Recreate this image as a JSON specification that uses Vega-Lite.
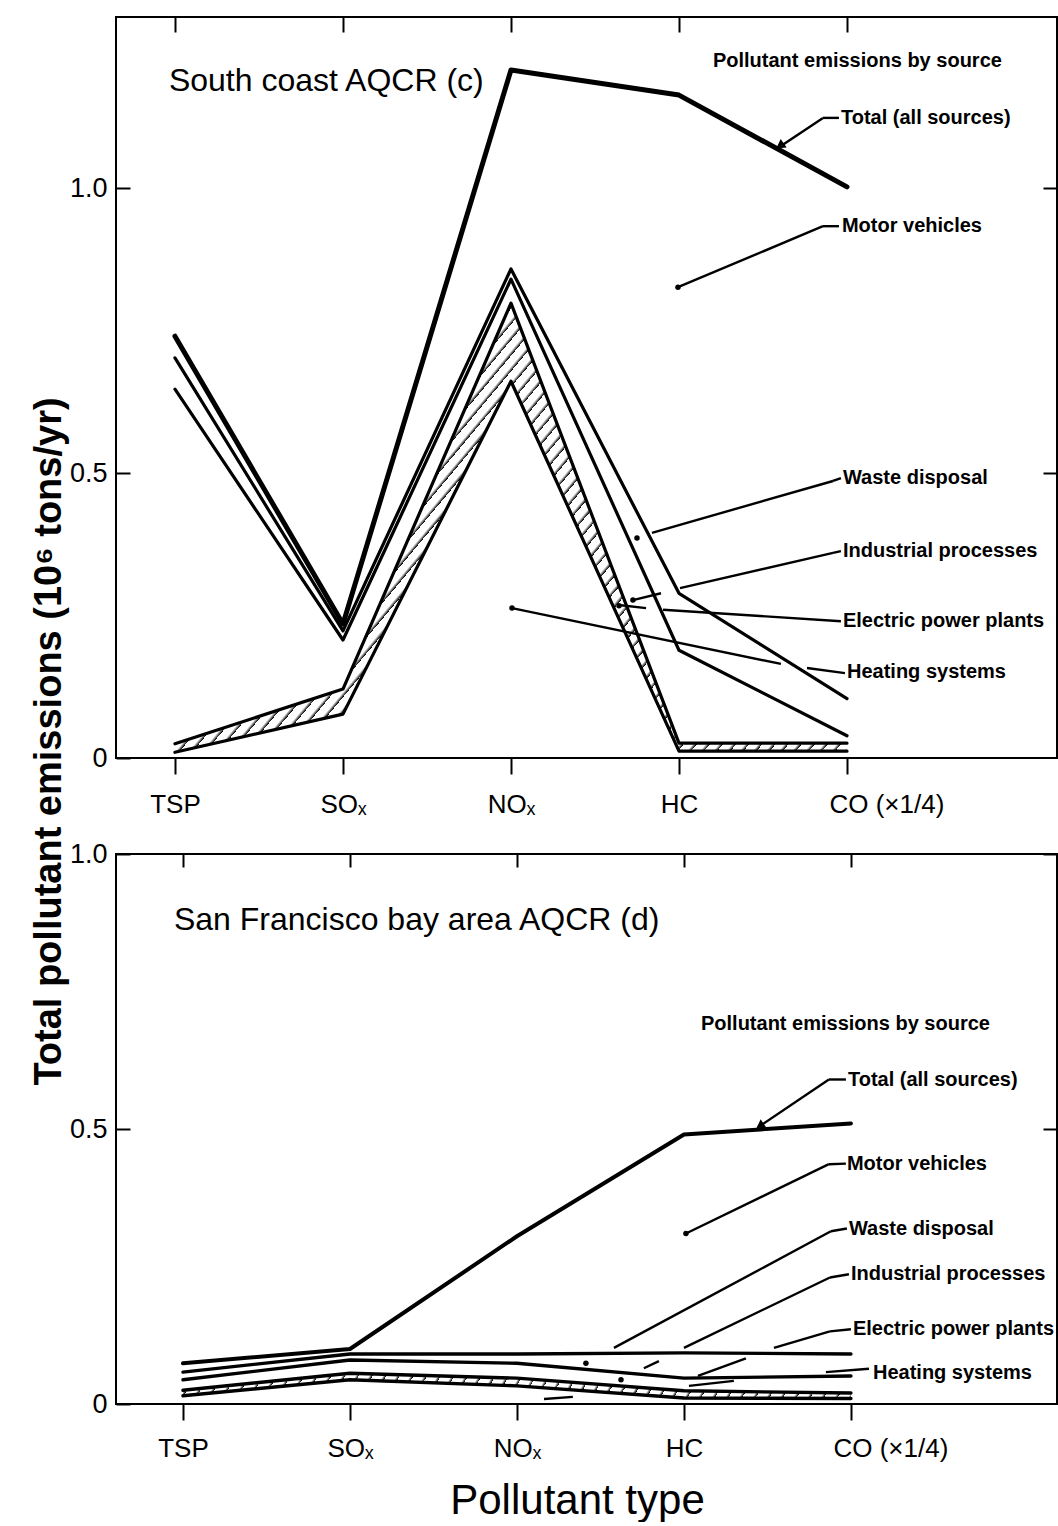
{
  "$schema": "https://vega.github.io/schema/vega-lite/v6.json",
  "autosize": {"type": "pad"},
  "padding": {"left": 29, "top": 15, "right": 0, "bottom": 0},
  "background": "white",
  "config": {
    "view": {"stroke": "black", "strokeWidth": 2},
    "axis": {"grid": false, "domain": false, "tickColor": "black", "tickWidth": 2, "labelColor": "black", "titleColor": "black"}
  },
  "datasets": {
    "c": [
      {"pos": 1, "L1": 0.740, "L2": 0.702, "L3": 0.647, "L4": 0.025, "L5": 0.010},
      {"pos": 2, "L1": 0.235, "L2": 0.223, "L3": 0.207, "L4": 0.121, "L5": 0.077},
      {"pos": 3, "L1": 1.207, "L2": 0.858, "L3": 0.840, "L4": 0.798, "L5": 0.661},
      {"pos": 4, "L1": 1.163, "L2": 0.289, "L3": 0.189, "L4": 0.026, "L5": 0.012},
      {"pos": 5, "L1": 1.002, "L2": 0.104, "L3": 0.039, "L4": 0.026, "L5": 0.012}
    ],
    "d": [
      {"pos": 1, "L1": 0.074, "L2": 0.058, "L3": 0.044, "L4": 0.025, "L5": 0.015},
      {"pos": 2, "L1": 0.100, "L2": 0.091, "L3": 0.080, "L4": 0.056, "L5": 0.044},
      {"pos": 3, "L1": 0.305, "L2": 0.091, "L3": 0.074, "L4": 0.047, "L5": 0.033},
      {"pos": 4, "L1": 0.490, "L2": 0.093, "L3": 0.047, "L4": 0.024, "L5": 0.011},
      {"pos": 5, "L1": 0.510, "L2": 0.091, "L3": 0.051, "L4": 0.020, "L5": 0.010}
    ],
    "labc": [
      {"kind": "title", "x": 0.964, "y": 1.170, "t": "South coast AQCR (c)"},
      {"kind": "lab", "x": 4.202, "y": 1.223, "t": "Pollutant emissions by source"},
      {"kind": "lab", "x": 4.964, "y": 1.123, "t": "Total (all sources)"},
      {"kind": "lab", "x": 4.970, "y": 0.933, "t": "Motor vehicles"},
      {"kind": "lab", "x": 4.976, "y": 0.491, "t": "Waste disposal"},
      {"kind": "lab", "x": 4.976, "y": 0.363, "t": "Industrial processes"},
      {"kind": "lab", "x": 4.976, "y": 0.240, "t": "Electric power plants"},
      {"kind": "lab", "x": 5.0, "y": 0.151, "t": "Heating systems"}
    ],
    "legc": [
      {"x": 4.952, "y": 1.123, "x2": 4.857, "y2": 1.123},
      {"x": 4.857, "y": 1.123, "x2": 4.589, "y2": 1.070},
      {"x": 4.952, "y": 0.933, "x2": 4.857, "y2": 0.933},
      {"x": 4.857, "y": 0.933, "x2": 3.994, "y2": 0.826},
      {"x": 4.964, "y": 0.491, "x2": 4.917, "y2": 0.486},
      {"x": 4.917, "y": 0.486, "x2": 3.839, "y2": 0.395},
      {"x": 4.964, "y": 0.363, "x2": 4.917, "y2": 0.360},
      {"x": 4.917, "y": 0.360, "x2": 4.006, "y2": 0.298},
      {"x": 3.893, "y": 0.289, "x2": 3.726, "y2": 0.277},
      {"x": 4.964, "y": 0.240, "x2": 3.905, "y2": 0.260},
      {"x": 3.804, "y": 0.263, "x2": 3.655, "y2": 0.268},
      {"x": 4.988, "y": 0.149, "x2": 4.762, "y2": 0.158},
      {"x": 4.607, "y": 0.165, "x2": 3.006, "y2": 0.263}
    ],
    "dotc": [
      {"x": 3.994, "y": 0.826}, {"x": 3.750, "y": 0.386}, {"x": 3.726, "y": 0.277},
      {"x": 3.643, "y": 0.267}, {"x": 3.006, "y": 0.263}
    ],
    "arrc": [{"x": 4.601, "y": 1.074}],
    "labd": [
      {"kind": "title", "x": 0.946, "y": 0.862, "t": "San Francisco bay area AQCR (d)"},
      {"kind": "lab", "x": 4.102, "y": 0.691, "t": "Pollutant emissions by source"},
      {"kind": "lab", "x": 4.982, "y": 0.590, "t": "Total (all sources)"},
      {"kind": "lab", "x": 4.976, "y": 0.437, "t": "Motor vehicles"},
      {"kind": "lab", "x": 4.988, "y": 0.319, "t": "Waste disposal"},
      {"kind": "lab", "x": 5.0, "y": 0.236, "t": "Industrial processes"},
      {"kind": "lab", "x": 5.012, "y": 0.136, "t": "Electric power plants"},
      {"kind": "lab", "x": 5.132, "y": 0.056, "t": "Heating systems"}
    ],
    "legd": [
      {"x": 4.970, "y": 0.590, "x2": 4.868, "y2": 0.590},
      {"x": 4.868, "y": 0.590, "x2": 4.443, "y2": 0.503},
      {"x": 4.970, "y": 0.437, "x2": 4.868, "y2": 0.436},
      {"x": 4.868, "y": 0.436, "x2": 4.012, "y2": 0.310},
      {"x": 4.976, "y": 0.319, "x2": 4.880, "y2": 0.314},
      {"x": 4.880, "y": 0.314, "x2": 3.581, "y2": 0.102},
      {"x": 4.988, "y": 0.236, "x2": 4.874, "y2": 0.230},
      {"x": 4.874, "y": 0.230, "x2": 4.0, "y2": 0.102},
      {"x": 3.850, "y": 0.078, "x2": 3.760, "y2": 0.065},
      {"x": 5.0, "y": 0.136, "x2": 4.874, "y2": 0.132},
      {"x": 4.874, "y": 0.132, "x2": 4.539, "y2": 0.102},
      {"x": 4.371, "y": 0.083, "x2": 4.084, "y2": 0.051},
      {"x": 4.299, "y": 0.042, "x2": 4.030, "y2": 0.033},
      {"x": 5.108, "y": 0.064, "x2": 4.850, "y2": 0.058},
      {"x": 3.335, "y": 0.013, "x2": 3.162, "y2": 0.009}
    ],
    "dotd": [{"x": 4.012, "y": 0.310}, {"x": 3.413, "y": 0.074}, {"x": 3.623, "y": 0.044}],
    "arrd": [{"x": 4.455, "y": 0.505}]
  },
  "vconcat": [
    {
      "width": 941,
      "height": 741,
      "layer": [
        {
          "data": {"name": "c"},
          "mark": {"type": "area", "strokeWidth": 0, "fill": {"gradient": "linear", "x1": 0, "y1": 0, "x2": 1.188, "y2": 0.665, "stops": [
            {"offset":0,"color":"#fff"},{"offset":0.0085,"color":"#fff"},{"offset":0.0125,"color":"#000"},
            {"offset":0.0125,"color":"#fff"},{"offset":0.021,"color":"#fff"},{"offset":0.025,"color":"#000"},
            {"offset":0.025,"color":"#fff"},{"offset":0.0335,"color":"#fff"},{"offset":0.0375,"color":"#000"},
            {"offset":0.0375,"color":"#fff"},{"offset":0.046,"color":"#fff"},{"offset":0.05,"color":"#000"},
            {"offset":0.05,"color":"#fff"},{"offset":0.0585,"color":"#fff"},{"offset":0.0625,"color":"#000"},
            {"offset":0.0625,"color":"#fff"},{"offset":0.071,"color":"#fff"},{"offset":0.075,"color":"#000"},
            {"offset":0.075,"color":"#fff"},{"offset":0.0835,"color":"#fff"},{"offset":0.0875,"color":"#000"},
            {"offset":0.0875,"color":"#fff"},{"offset":0.096,"color":"#fff"},{"offset":0.1,"color":"#000"},
            {"offset":0.1,"color":"#fff"},{"offset":0.1085,"color":"#fff"},{"offset":0.1125,"color":"#000"},
            {"offset":0.1125,"color":"#fff"},{"offset":0.121,"color":"#fff"},{"offset":0.125,"color":"#000"},
            {"offset":0.125,"color":"#fff"},{"offset":0.1335,"color":"#fff"},{"offset":0.1375,"color":"#000"},
            {"offset":0.1375,"color":"#fff"},{"offset":0.146,"color":"#fff"},{"offset":0.15,"color":"#000"},
            {"offset":0.15,"color":"#fff"},{"offset":0.1585,"color":"#fff"},{"offset":0.1625,"color":"#000"},
            {"offset":0.1625,"color":"#fff"},{"offset":0.171,"color":"#fff"},{"offset":0.175,"color":"#000"},
            {"offset":0.175,"color":"#fff"},{"offset":0.1835,"color":"#fff"},{"offset":0.1875,"color":"#000"},
            {"offset":0.1875,"color":"#fff"},{"offset":0.196,"color":"#fff"},{"offset":0.2,"color":"#000"},
            {"offset":0.2,"color":"#fff"},{"offset":0.2085,"color":"#fff"},{"offset":0.2125,"color":"#000"},
            {"offset":0.2125,"color":"#fff"},{"offset":0.221,"color":"#fff"},{"offset":0.225,"color":"#000"},
            {"offset":0.225,"color":"#fff"},{"offset":0.2335,"color":"#fff"},{"offset":0.2375,"color":"#000"},
            {"offset":0.2375,"color":"#fff"},{"offset":0.246,"color":"#fff"},{"offset":0.25,"color":"#000"},
            {"offset":0.25,"color":"#fff"},{"offset":0.2585,"color":"#fff"},{"offset":0.2625,"color":"#000"},
            {"offset":0.2625,"color":"#fff"},{"offset":0.271,"color":"#fff"},{"offset":0.275,"color":"#000"},
            {"offset":0.275,"color":"#fff"},{"offset":0.2835,"color":"#fff"},{"offset":0.2875,"color":"#000"},
            {"offset":0.2875,"color":"#fff"},{"offset":0.296,"color":"#fff"},{"offset":0.3,"color":"#000"},
            {"offset":0.3,"color":"#fff"},{"offset":0.3085,"color":"#fff"},{"offset":0.3125,"color":"#000"},
            {"offset":0.3125,"color":"#fff"},{"offset":0.321,"color":"#fff"},{"offset":0.325,"color":"#000"},
            {"offset":0.325,"color":"#fff"},{"offset":0.3335,"color":"#fff"},{"offset":0.3375,"color":"#000"},
            {"offset":0.3375,"color":"#fff"},{"offset":0.346,"color":"#fff"},{"offset":0.35,"color":"#000"},
            {"offset":0.35,"color":"#fff"},{"offset":0.3585,"color":"#fff"},{"offset":0.3625,"color":"#000"},
            {"offset":0.3625,"color":"#fff"},{"offset":0.371,"color":"#fff"},{"offset":0.375,"color":"#000"},
            {"offset":0.375,"color":"#fff"},{"offset":0.3835,"color":"#fff"},{"offset":0.3875,"color":"#000"},
            {"offset":0.3875,"color":"#fff"},{"offset":0.396,"color":"#fff"},{"offset":0.4,"color":"#000"},
            {"offset":0.4,"color":"#fff"},{"offset":0.4085,"color":"#fff"},{"offset":0.4125,"color":"#000"},
            {"offset":0.4125,"color":"#fff"},{"offset":0.421,"color":"#fff"},{"offset":0.425,"color":"#000"},
            {"offset":0.425,"color":"#fff"},{"offset":0.4335,"color":"#fff"},{"offset":0.4375,"color":"#000"},
            {"offset":0.4375,"color":"#fff"},{"offset":0.446,"color":"#fff"},{"offset":0.45,"color":"#000"},
            {"offset":0.45,"color":"#fff"},{"offset":0.4585,"color":"#fff"},{"offset":0.4625,"color":"#000"},
            {"offset":0.4625,"color":"#fff"},{"offset":0.471,"color":"#fff"},{"offset":0.475,"color":"#000"},
            {"offset":0.475,"color":"#fff"},{"offset":0.4835,"color":"#fff"},{"offset":0.4875,"color":"#000"},
            {"offset":0.4875,"color":"#fff"},{"offset":0.496,"color":"#fff"},{"offset":0.5,"color":"#000"},
            {"offset":0.5,"color":"#fff"},{"offset":0.5085,"color":"#fff"},{"offset":0.5125,"color":"#000"},
            {"offset":0.5125,"color":"#fff"},{"offset":0.521,"color":"#fff"},{"offset":0.525,"color":"#000"},
            {"offset":0.525,"color":"#fff"},{"offset":0.5335,"color":"#fff"},{"offset":0.5375,"color":"#000"},
            {"offset":0.5375,"color":"#fff"},{"offset":0.546,"color":"#fff"},{"offset":0.55,"color":"#000"},
            {"offset":0.55,"color":"#fff"},{"offset":0.5585,"color":"#fff"},{"offset":0.5625,"color":"#000"},
            {"offset":0.5625,"color":"#fff"},{"offset":0.571,"color":"#fff"},{"offset":0.575,"color":"#000"},
            {"offset":0.575,"color":"#fff"},{"offset":0.5835,"color":"#fff"},{"offset":0.5875,"color":"#000"},
            {"offset":0.5875,"color":"#fff"},{"offset":0.596,"color":"#fff"},{"offset":0.6,"color":"#000"},
            {"offset":0.6,"color":"#fff"},{"offset":0.6085,"color":"#fff"},{"offset":0.6125,"color":"#000"},
            {"offset":0.6125,"color":"#fff"},{"offset":0.621,"color":"#fff"},{"offset":0.625,"color":"#000"},
            {"offset":0.625,"color":"#fff"},{"offset":0.6335,"color":"#fff"},{"offset":0.6375,"color":"#000"},
            {"offset":0.6375,"color":"#fff"},{"offset":0.646,"color":"#fff"},{"offset":0.65,"color":"#000"},
            {"offset":0.65,"color":"#fff"},{"offset":0.6585,"color":"#fff"},{"offset":0.6625,"color":"#000"},
            {"offset":0.6625,"color":"#fff"},{"offset":0.671,"color":"#fff"},{"offset":0.675,"color":"#000"},
            {"offset":0.675,"color":"#fff"},{"offset":0.6835,"color":"#fff"},{"offset":0.6875,"color":"#000"},
            {"offset":0.6875,"color":"#fff"},{"offset":0.696,"color":"#fff"},{"offset":0.7,"color":"#000"},
            {"offset":0.7,"color":"#fff"},{"offset":0.7085,"color":"#fff"},{"offset":0.7125,"color":"#000"},
            {"offset":0.7125,"color":"#fff"},{"offset":0.721,"color":"#fff"},{"offset":0.725,"color":"#000"},
            {"offset":0.725,"color":"#fff"},{"offset":0.7335,"color":"#fff"},{"offset":0.7375,"color":"#000"},
            {"offset":0.7375,"color":"#fff"},{"offset":0.746,"color":"#fff"},{"offset":0.75,"color":"#000"},
            {"offset":0.75,"color":"#fff"},{"offset":0.7585,"color":"#fff"},{"offset":0.7625,"color":"#000"},
            {"offset":0.7625,"color":"#fff"},{"offset":0.771,"color":"#fff"},{"offset":0.775,"color":"#000"},
            {"offset":0.775,"color":"#fff"},{"offset":0.7835,"color":"#fff"},{"offset":0.7875,"color":"#000"},
            {"offset":0.7875,"color":"#fff"},{"offset":0.796,"color":"#fff"},{"offset":0.8,"color":"#000"},
            {"offset":0.8,"color":"#fff"},{"offset":0.8085,"color":"#fff"},{"offset":0.8125,"color":"#000"},
            {"offset":0.8125,"color":"#fff"},{"offset":0.821,"color":"#fff"},{"offset":0.825,"color":"#000"},
            {"offset":0.825,"color":"#fff"},{"offset":0.8335,"color":"#fff"},{"offset":0.8375,"color":"#000"},
            {"offset":0.8375,"color":"#fff"},{"offset":0.846,"color":"#fff"},{"offset":0.85,"color":"#000"},
            {"offset":0.85,"color":"#fff"},{"offset":0.8585,"color":"#fff"},{"offset":0.8625,"color":"#000"},
            {"offset":0.8625,"color":"#fff"},{"offset":0.871,"color":"#fff"},{"offset":0.875,"color":"#000"},
            {"offset":0.875,"color":"#fff"},{"offset":0.8835,"color":"#fff"},{"offset":0.8875,"color":"#000"},
            {"offset":0.8875,"color":"#fff"},{"offset":0.896,"color":"#fff"},{"offset":0.9,"color":"#000"},
            {"offset":0.9,"color":"#fff"},{"offset":0.9085,"color":"#fff"},{"offset":0.9125,"color":"#000"},
            {"offset":0.9125,"color":"#fff"},{"offset":0.921,"color":"#fff"},{"offset":0.925,"color":"#000"},
            {"offset":0.925,"color":"#fff"},{"offset":0.9335,"color":"#fff"},{"offset":0.9375,"color":"#000"},
            {"offset":0.9375,"color":"#fff"},{"offset":0.946,"color":"#fff"},{"offset":0.95,"color":"#000"},
            {"offset":0.95,"color":"#fff"},{"offset":0.9585,"color":"#fff"},{"offset":0.9625,"color":"#000"},
            {"offset":0.9625,"color":"#fff"},{"offset":0.971,"color":"#fff"},{"offset":0.975,"color":"#000"},
            {"offset":0.975,"color":"#fff"},{"offset":0.9835,"color":"#fff"},{"offset":0.9875,"color":"#000"},
            {"offset":0.9875,"color":"#fff"},{"offset":0.996,"color":"#fff"},{"offset":1,"color":"#000"}
          ]}},
          "encoding": {
            "x": {"field": "pos", "type": "quantitative", "scale": {"domain": [0.649, 6.25], "nice": false, "zero": false},
              "axis": {"orient": "bottom", "values": [1, 2, 3, 4, 5], "labelExpr": "['','TSP','SOₓ','NOₓ','HC','CO (×1/4)'][datum.value]",
                "tickSize": 16, "labelPadding": 17, "labelFont": "Liberation Sans, Arial, sans-serif", "labelFontSize": 26,
                "labelAlign": {"condition": {"test": "datum.value == 5", "value": "left"}, "value": "center"},
                "labelOffset": {"condition": {"test": "datum.value == 5", "value": -18}, "value": 0},
                "labelOverlap": false, "labelFlush": false, "title": null}},
            "y": {"field": "L5", "type": "quantitative", "scale": {"domain": [0, 1.3], "nice": false},
              "axis": {"orient": "left", "values": [0, 0.5, 1], "labelExpr": "datum.value == 0 ? '0' : format(datum.value, '.1f')",
                "tickSize": -14, "labelPadding": 23, "labelFont": "Liberation Sans, Arial, sans-serif", "labelFontSize": 27,
                "title": "Total pollutant emissions (10⁶ tons/yr)", "titleFont": "Liberation Sans, Arial, sans-serif",
                "titleFontSize": 38, "titleFontWeight": "bold", "titleAngle": 270, "titleBaseline": "top", "titleAlign": "center",
                "titleX": -86, "titleY": 724}},
            "y2": {"field": "L4"}
          }
        },
        {
          "data": {"name": "c"},
          "transform": [{"fold": ["L1", "L2", "L3", "L4", "L5"], "as": ["s", "v"]}],
          "mark": {"type": "line", "color": "black", "strokeCap": "round", "strokeJoin": "round"},
          "encoding": {
            "x": {"field": "pos", "type": "quantitative", "scale": {"domain": [0.649, 6.25], "nice": false, "zero": false},
              "axis": {"orient": "top", "values": [1, 2, 3, 4, 5], "labels": false, "tickSize": -15, "title": null}},
            "y": {"field": "v", "type": "quantitative", "scale": {"domain": [0, 1.3], "nice": false},
              "axis": {"orient": "right", "values": [0.5, 1], "labels": false, "tickSize": -14, "title": null}},
            "detail": {"field": "s"},
            "strokeWidth": {"condition": {"test": "datum.s === 'L1'", "value": 5}, "value": 3.2}
          }
        },
        {
          "data": {"name": "legc"},
          "mark": {"type": "rule", "color": "black", "strokeWidth": 2.4},
          "encoding": {
            "x": {"field": "x", "type": "quantitative", "scale": {"domain": [0.649, 6.25], "nice": false, "zero": false}, "axis": null},
            "y": {"field": "y", "type": "quantitative", "scale": {"domain": [0, 1.3], "nice": false}, "axis": null},
            "x2": {"field": "x2"},
            "y2": {"field": "y2"}
          }
        },
        {
          "data": {"name": "dotc"},
          "mark": {"type": "point", "filled": true, "color": "black", "size": 30, "opacity": 1},
          "encoding": {
            "x": {"field": "x", "type": "quantitative", "scale": {"domain": [0.649, 6.25], "nice": false, "zero": false}, "axis": null},
            "y": {"field": "y", "type": "quantitative", "scale": {"domain": [0, 1.3], "nice": false}, "axis": null}
          }
        },
        {
          "data": {"name": "arrc"},
          "mark": {"type": "point", "shape": "triangle-up", "angle": 235, "filled": true, "color": "black", "size": 110, "opacity": 1},
          "encoding": {
            "x": {"field": "x", "type": "quantitative", "scale": {"domain": [0.649, 6.25], "nice": false, "zero": false}, "axis": null},
            "y": {"field": "y", "type": "quantitative", "scale": {"domain": [0, 1.3], "nice": false}, "axis": null}
          }
        },
        {
          "data": {"name": "labc"},
          "transform": [{"filter": "datum.kind == 'title'"}],
          "mark": {"type": "text", "align": "left", "baseline": "alphabetic", "font": "Liberation Sans, Arial, sans-serif", "fontSize": 32, "color": "black"},
          "encoding": {
            "x": {"field": "x", "type": "quantitative", "scale": {"domain": [0.649, 6.25], "nice": false, "zero": false}, "axis": null},
            "y": {"field": "y", "type": "quantitative", "scale": {"domain": [0, 1.3], "nice": false}, "axis": null},
            "text": {"field": "t"}
          }
        },
        {
          "data": {"name": "labc"},
          "transform": [{"filter": "datum.kind == 'lab'"}],
          "mark": {"type": "text", "align": "left", "baseline": "middle", "font": "Liberation Sans, Arial, sans-serif", "fontWeight": "bold", "fontSize": 20, "color": "black"},
          "encoding": {
            "x": {"field": "x", "type": "quantitative", "scale": {"domain": [0.649, 6.25], "nice": false, "zero": false}, "axis": null},
            "y": {"field": "y", "type": "quantitative", "scale": {"domain": [0, 1.3], "nice": false}, "axis": null},
            "text": {"field": "t"}
          }
        }
      ],
      "resolve": {"axis": {"x": "independent", "y": "independent"}}
    },
    {
      "width": 941,
      "height": 550,
      "layer": [
        {
          "data": {"name": "d"},
          "mark": {"type": "area", "strokeWidth": 0, "fill": {"gradient": "linear", "x1": 0, "y1": 0, "x2": 1.021, "y2": 0.022, "stops": [
            {"offset":0,"color":"#fff"},{"offset":0.015,"color":"#fff"},{"offset":0.02,"color":"#000"},
            {"offset":0.02,"color":"#fff"},{"offset":0.035,"color":"#fff"},{"offset":0.04,"color":"#000"},
            {"offset":0.04,"color":"#fff"},{"offset":0.055,"color":"#fff"},{"offset":0.06,"color":"#000"},
            {"offset":0.06,"color":"#fff"},{"offset":0.075,"color":"#fff"},{"offset":0.08,"color":"#000"},
            {"offset":0.08,"color":"#fff"},{"offset":0.095,"color":"#fff"},{"offset":0.1,"color":"#000"},
            {"offset":0.1,"color":"#fff"},{"offset":0.115,"color":"#fff"},{"offset":0.12,"color":"#000"},
            {"offset":0.12,"color":"#fff"},{"offset":0.135,"color":"#fff"},{"offset":0.14,"color":"#000"},
            {"offset":0.14,"color":"#fff"},{"offset":0.155,"color":"#fff"},{"offset":0.16,"color":"#000"},
            {"offset":0.16,"color":"#fff"},{"offset":0.175,"color":"#fff"},{"offset":0.18,"color":"#000"},
            {"offset":0.18,"color":"#fff"},{"offset":0.195,"color":"#fff"},{"offset":0.2,"color":"#000"},
            {"offset":0.2,"color":"#fff"},{"offset":0.215,"color":"#fff"},{"offset":0.22,"color":"#000"},
            {"offset":0.22,"color":"#fff"},{"offset":0.235,"color":"#fff"},{"offset":0.24,"color":"#000"},
            {"offset":0.24,"color":"#fff"},{"offset":0.255,"color":"#fff"},{"offset":0.26,"color":"#000"},
            {"offset":0.26,"color":"#fff"},{"offset":0.275,"color":"#fff"},{"offset":0.28,"color":"#000"},
            {"offset":0.28,"color":"#fff"},{"offset":0.295,"color":"#fff"},{"offset":0.3,"color":"#000"},
            {"offset":0.3,"color":"#fff"},{"offset":0.315,"color":"#fff"},{"offset":0.32,"color":"#000"},
            {"offset":0.32,"color":"#fff"},{"offset":0.335,"color":"#fff"},{"offset":0.34,"color":"#000"},
            {"offset":0.34,"color":"#fff"},{"offset":0.355,"color":"#fff"},{"offset":0.36,"color":"#000"},
            {"offset":0.36,"color":"#fff"},{"offset":0.375,"color":"#fff"},{"offset":0.38,"color":"#000"},
            {"offset":0.38,"color":"#fff"},{"offset":0.395,"color":"#fff"},{"offset":0.4,"color":"#000"},
            {"offset":0.4,"color":"#fff"},{"offset":0.415,"color":"#fff"},{"offset":0.42,"color":"#000"},
            {"offset":0.42,"color":"#fff"},{"offset":0.435,"color":"#fff"},{"offset":0.44,"color":"#000"},
            {"offset":0.44,"color":"#fff"},{"offset":0.455,"color":"#fff"},{"offset":0.46,"color":"#000"},
            {"offset":0.46,"color":"#fff"},{"offset":0.475,"color":"#fff"},{"offset":0.48,"color":"#000"},
            {"offset":0.48,"color":"#fff"},{"offset":0.495,"color":"#fff"},{"offset":0.5,"color":"#000"},
            {"offset":0.5,"color":"#fff"},{"offset":0.515,"color":"#fff"},{"offset":0.52,"color":"#000"},
            {"offset":0.52,"color":"#fff"},{"offset":0.535,"color":"#fff"},{"offset":0.54,"color":"#000"},
            {"offset":0.54,"color":"#fff"},{"offset":0.555,"color":"#fff"},{"offset":0.56,"color":"#000"},
            {"offset":0.56,"color":"#fff"},{"offset":0.575,"color":"#fff"},{"offset":0.58,"color":"#000"},
            {"offset":0.58,"color":"#fff"},{"offset":0.595,"color":"#fff"},{"offset":0.6,"color":"#000"},
            {"offset":0.6,"color":"#fff"},{"offset":0.615,"color":"#fff"},{"offset":0.62,"color":"#000"},
            {"offset":0.62,"color":"#fff"},{"offset":0.635,"color":"#fff"},{"offset":0.64,"color":"#000"},
            {"offset":0.64,"color":"#fff"},{"offset":0.655,"color":"#fff"},{"offset":0.66,"color":"#000"},
            {"offset":0.66,"color":"#fff"},{"offset":0.675,"color":"#fff"},{"offset":0.68,"color":"#000"},
            {"offset":0.68,"color":"#fff"},{"offset":0.695,"color":"#fff"},{"offset":0.7,"color":"#000"},
            {"offset":0.7,"color":"#fff"},{"offset":0.715,"color":"#fff"},{"offset":0.72,"color":"#000"},
            {"offset":0.72,"color":"#fff"},{"offset":0.735,"color":"#fff"},{"offset":0.74,"color":"#000"},
            {"offset":0.74,"color":"#fff"},{"offset":0.755,"color":"#fff"},{"offset":0.76,"color":"#000"},
            {"offset":0.76,"color":"#fff"},{"offset":0.775,"color":"#fff"},{"offset":0.78,"color":"#000"},
            {"offset":0.78,"color":"#fff"},{"offset":0.795,"color":"#fff"},{"offset":0.8,"color":"#000"},
            {"offset":0.8,"color":"#fff"},{"offset":0.815,"color":"#fff"},{"offset":0.82,"color":"#000"},
            {"offset":0.82,"color":"#fff"},{"offset":0.835,"color":"#fff"},{"offset":0.84,"color":"#000"},
            {"offset":0.84,"color":"#fff"},{"offset":0.855,"color":"#fff"},{"offset":0.86,"color":"#000"},
            {"offset":0.86,"color":"#fff"},{"offset":0.875,"color":"#fff"},{"offset":0.88,"color":"#000"},
            {"offset":0.88,"color":"#fff"},{"offset":0.895,"color":"#fff"},{"offset":0.9,"color":"#000"},
            {"offset":0.9,"color":"#fff"},{"offset":0.915,"color":"#fff"},{"offset":0.92,"color":"#000"},
            {"offset":0.92,"color":"#fff"},{"offset":0.935,"color":"#fff"},{"offset":0.94,"color":"#000"},
            {"offset":0.94,"color":"#fff"},{"offset":0.955,"color":"#fff"},{"offset":0.96,"color":"#000"},
            {"offset":0.96,"color":"#fff"},{"offset":0.975,"color":"#fff"},{"offset":0.98,"color":"#000"},
            {"offset":0.98,"color":"#fff"},{"offset":0.995,"color":"#fff"},{"offset":1,"color":"#000"}
          ]}},
          "encoding": {
            "x": {"field": "pos", "type": "quantitative", "scale": {"domain": [0.599, 6.234], "nice": false, "zero": false},
              "axis": {"orient": "bottom", "values": [1, 2, 3, 4, 5], "labelExpr": "['','TSP','SOₓ','NOₓ','HC','CO (×1/4)'][datum.value]",
                "tickSize": 16, "labelPadding": 15, "labelFont": "Liberation Sans, Arial, sans-serif", "labelFontSize": 26,
                "labelAlign": {"condition": {"test": "datum.value == 5", "value": "left"}, "value": "center"},
                "labelOffset": {"condition": {"test": "datum.value == 5", "value": -18}, "value": 0},
                "labelOverlap": false, "labelFlush": false,
                "title": "Pollutant type", "titleFont": "Liberation Sans, Arial, sans-serif", "titleFontSize": 42,
                "titleFontWeight": "normal", "titleBaseline": "alphabetic", "titleAlign": "center", "titleX": 461, "titleY": 109}},
            "y": {"field": "L5", "type": "quantitative", "scale": {"domain": [0, 1], "nice": false},
              "axis": {"orient": "left", "values": [0, 0.5, 1], "labelExpr": "datum.value == 0 ? '0' : format(datum.value, '.1f')",
                "tickSize": -14, "labelPadding": 23, "labelFont": "Liberation Sans, Arial, sans-serif", "labelFontSize": 27,
                "title": null}},
            "y2": {"field": "L4"}
          }
        },
        {
          "data": {"name": "d"},
          "transform": [{"fold": ["L1", "L2", "L3", "L4", "L5"], "as": ["s", "v"]}],
          "mark": {"type": "line", "color": "black", "strokeCap": "round", "strokeJoin": "round"},
          "encoding": {
            "x": {"field": "pos", "type": "quantitative", "scale": {"domain": [0.599, 6.234], "nice": false, "zero": false},
              "axis": {"orient": "top", "values": [1, 2, 3, 4, 5], "labels": false, "tickSize": -13, "title": null}},
            "y": {"field": "v", "type": "quantitative", "scale": {"domain": [0, 1], "nice": false},
              "axis": {"orient": "right", "values": [0.5, 1], "labels": false, "tickSize": -14, "title": null}},
            "detail": {"field": "s"},
            "strokeWidth": {"condition": {"test": "datum.s === 'L1'", "value": 4}, "value": 3.4}
          }
        },
        {
          "data": {"name": "legd"},
          "mark": {"type": "rule", "color": "black", "strokeWidth": 2.4},
          "encoding": {
            "x": {"field": "x", "type": "quantitative", "scale": {"domain": [0.599, 6.234], "nice": false, "zero": false}, "axis": null},
            "y": {"field": "y", "type": "quantitative", "scale": {"domain": [0, 1], "nice": false}, "axis": null},
            "x2": {"field": "x2"},
            "y2": {"field": "y2"}
          }
        },
        {
          "data": {"name": "dotd"},
          "mark": {"type": "point", "filled": true, "color": "black", "size": 30, "opacity": 1},
          "encoding": {
            "x": {"field": "x", "type": "quantitative", "scale": {"domain": [0.599, 6.234], "nice": false, "zero": false}, "axis": null},
            "y": {"field": "y", "type": "quantitative", "scale": {"domain": [0, 1], "nice": false}, "axis": null}
          }
        },
        {
          "data": {"name": "arrd"},
          "mark": {"type": "point", "shape": "triangle-up", "angle": 235, "filled": true, "color": "black", "size": 110, "opacity": 1},
          "encoding": {
            "x": {"field": "x", "type": "quantitative", "scale": {"domain": [0.599, 6.234], "nice": false, "zero": false}, "axis": null},
            "y": {"field": "y", "type": "quantitative", "scale": {"domain": [0, 1], "nice": false}, "axis": null}
          }
        },
        {
          "data": {"name": "labd"},
          "transform": [{"filter": "datum.kind == 'title'"}],
          "mark": {"type": "text", "align": "left", "baseline": "alphabetic", "font": "Liberation Sans, Arial, sans-serif", "fontSize": 32, "color": "black"},
          "encoding": {
            "x": {"field": "x", "type": "quantitative", "scale": {"domain": [0.599, 6.234], "nice": false, "zero": false}, "axis": null},
            "y": {"field": "y", "type": "quantitative", "scale": {"domain": [0, 1], "nice": false}, "axis": null},
            "text": {"field": "t"}
          }
        },
        {
          "data": {"name": "labd"},
          "transform": [{"filter": "datum.kind == 'lab'"}],
          "mark": {"type": "text", "align": "left", "baseline": "middle", "font": "Liberation Sans, Arial, sans-serif", "fontWeight": "bold", "fontSize": 20, "color": "black"},
          "encoding": {
            "x": {"field": "x", "type": "quantitative", "scale": {"domain": [0.599, 6.234], "nice": false, "zero": false}, "axis": null},
            "y": {"field": "y", "type": "quantitative", "scale": {"domain": [0, 1], "nice": false}, "axis": null},
            "text": {"field": "t"}
          }
        }
      ],
      "resolve": {"axis": {"x": "independent", "y": "independent"}}
    }
  ],
  "spacing": 96,
  "bounds": "flush"
}
